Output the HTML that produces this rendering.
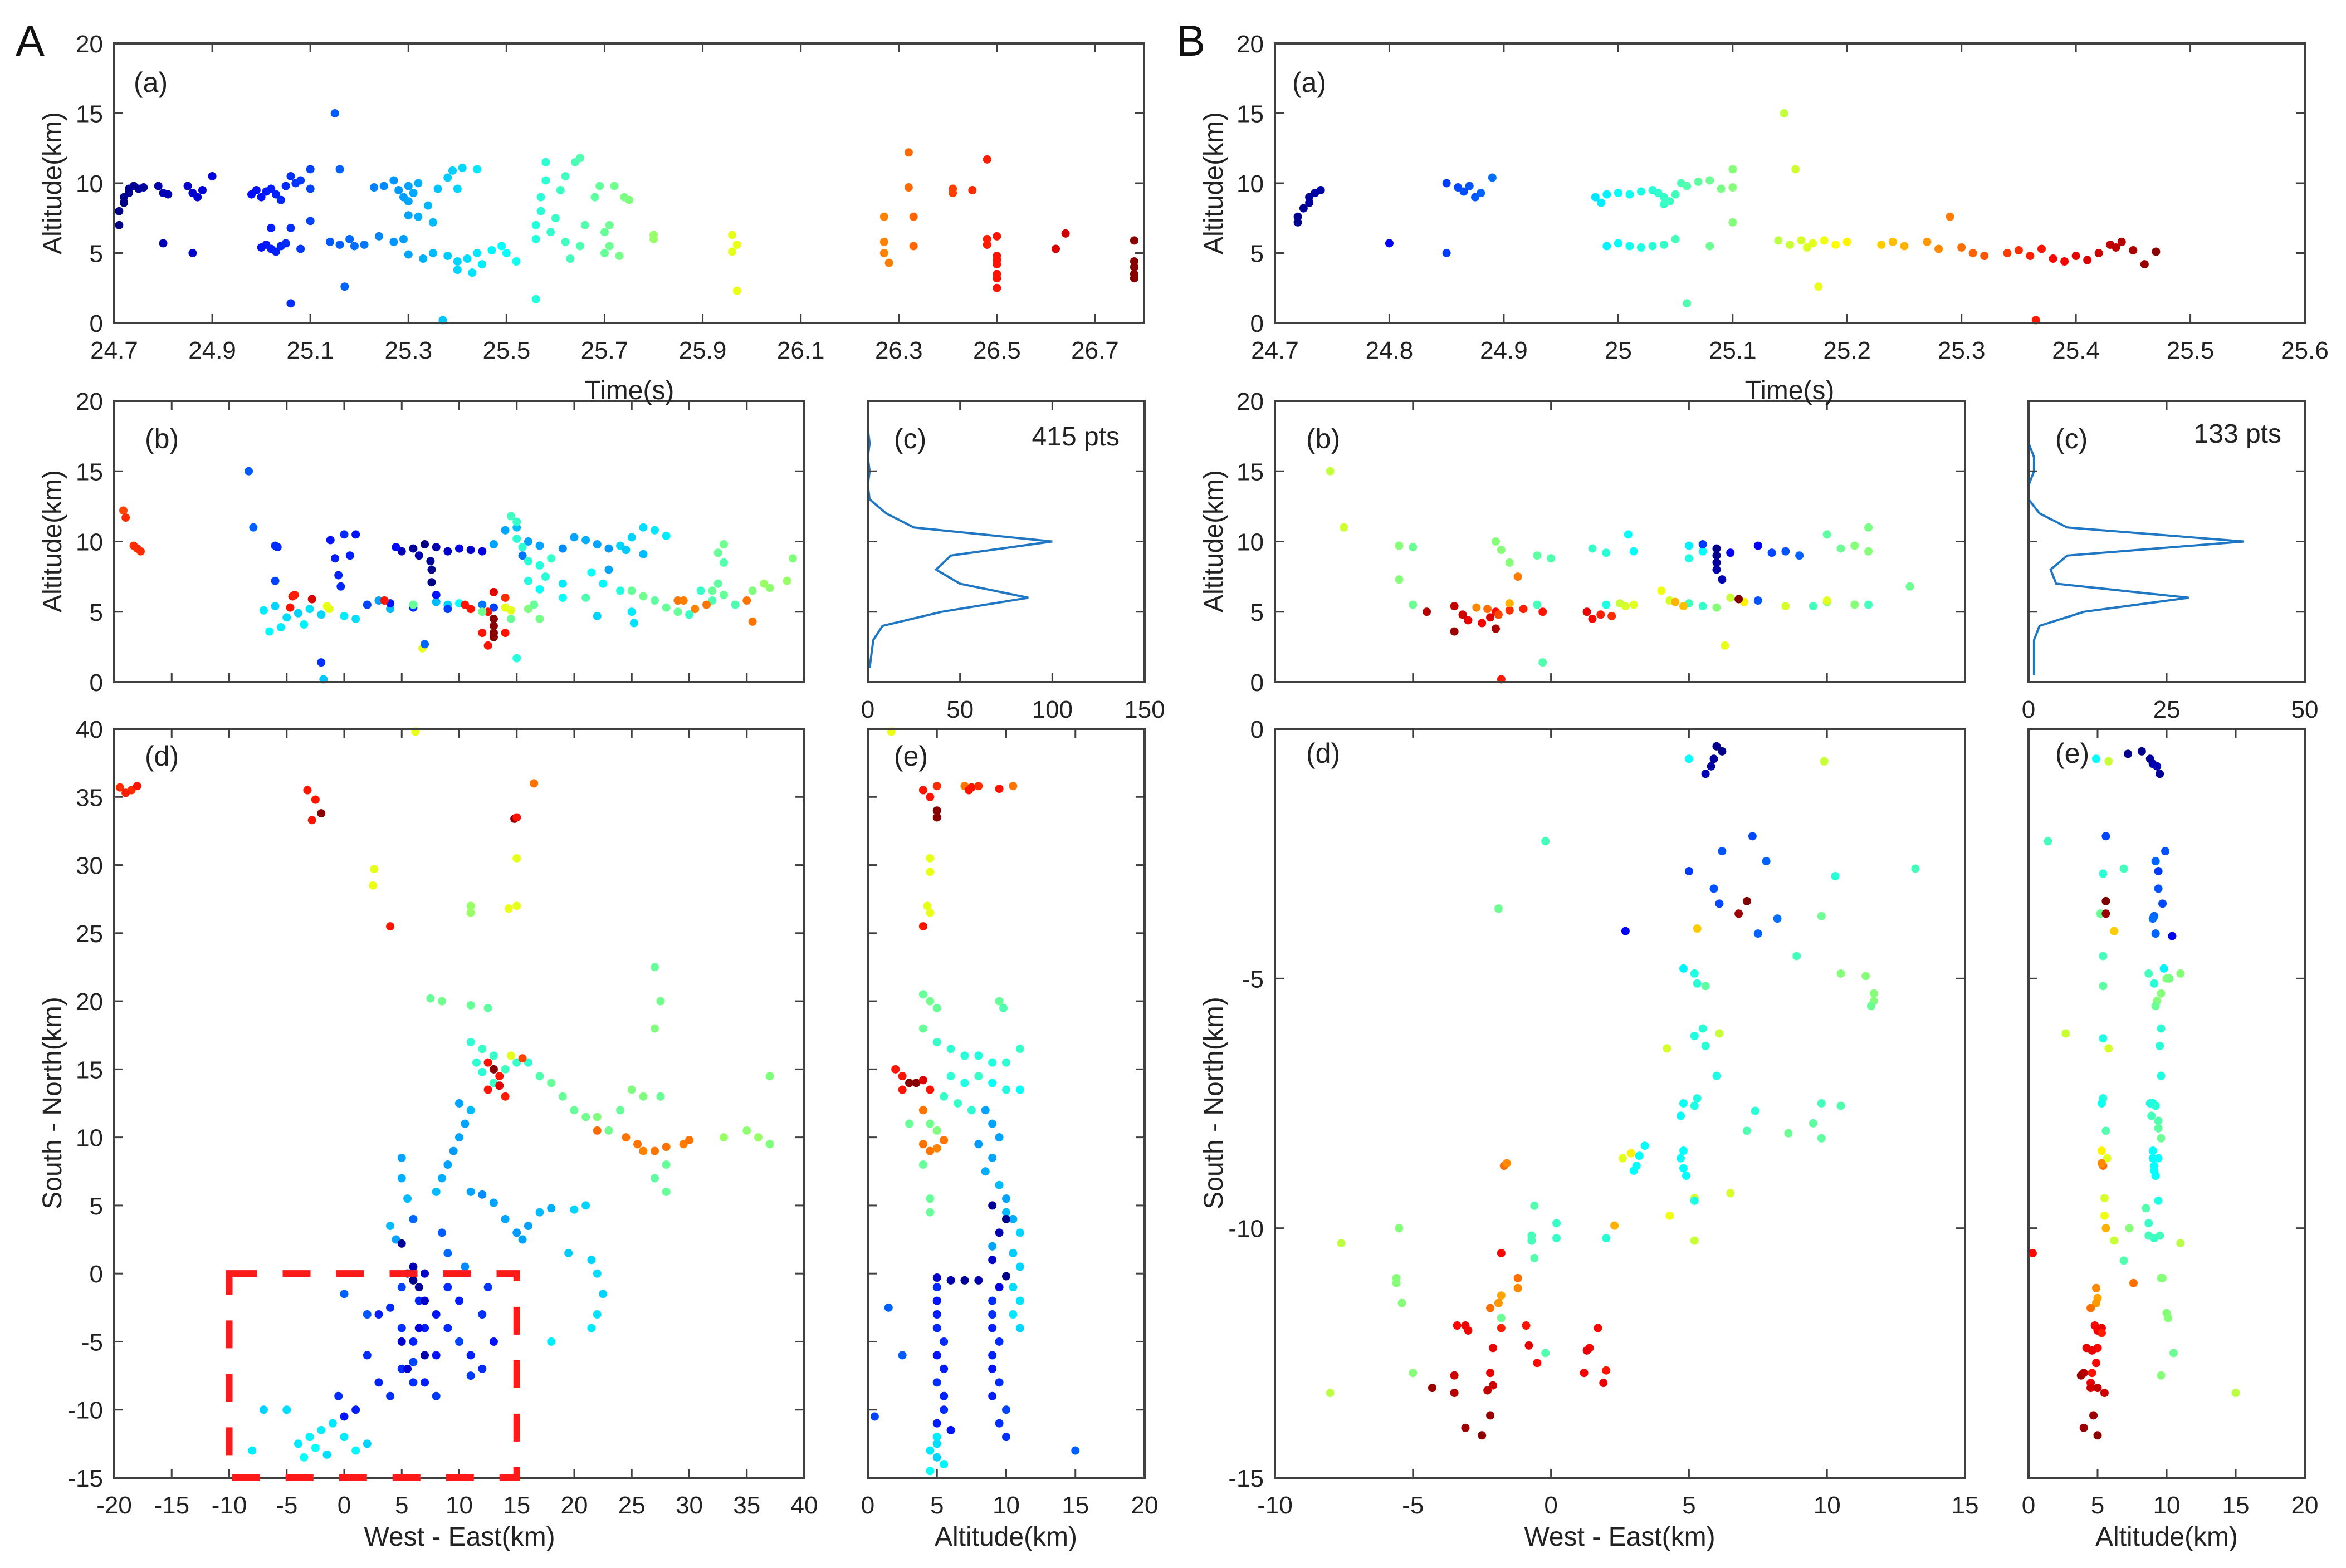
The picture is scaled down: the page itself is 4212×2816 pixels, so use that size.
<!DOCTYPE html>
<html><head><meta charset="utf-8">
<style>
html,body{margin:0;padding:0;background:#fff;}
svg{display:block;font-family:"Liberation Sans",Arial,sans-serif;}
</style></head>
<body>
<svg id="fig" width="4212" height="2816" viewBox="0 0 4212 2816" xmlns="http://www.w3.org/2000/svg">
<rect width="4212" height="2816" fill="#fff"/>
<text x="28" y="100" font-size="78" fill="#111">A</text>
<text x="2112" y="100" font-size="78" fill="#111">B</text>
</svg>
<script>
// ---------- Figure A data ----------
// A(a): [time(s), altitude(km)]
const aTimeAlt = [[24.71,7.0],[24.71,8.0],[24.72,8.6],[24.72,9.0],[24.73,9.3],[24.73,9.6],[24.74,9.8],[24.75,9.6],[24.76,9.7],[24.79,9.8],[24.80,9.3],[24.81,9.2],[24.80,5.7],[24.85,9.8],[24.86,9.3],[24.87,9.0],[24.88,9.5],[24.86,5.0],[24.90,10.5],
[24.98,9.2],[24.99,9.5],[25.0,9.0],[25.01,9.4],[25.02,9.6],[25.03,9.2],[25.04,8.8],[25.05,9.8],[25.06,10.5],[25.07,10.0],[25.08,10.2],[25.1,11.0],[25.1,9.6],[25.0,5.4],[25.01,5.6],[25.02,5.3],[25.03,5.1],[25.04,5.5],[25.05,5.7],[25.02,6.8],[25.06,6.8],[25.08,5.3],[25.1,7.3],[25.06,1.4],[25.15,15.0],[25.16,11.0],[25.14,5.8],[25.16,5.6],[25.18,6.0],[25.19,5.5],[25.21,5.6],[25.17,2.6],
[25.23,9.7],[25.25,9.8],[25.27,10.2],[25.28,9.5],[25.29,9.0],[25.30,9.8],[25.3,8.7],[25.31,9.3],[25.32,10.0],[25.3,7.7],[25.32,7.6],[25.34,8.4],[25.35,7.2],[25.36,9.6],[25.38,10.4],[25.39,10.9],[25.41,11.1],[25.4,9.6],[25.44,11.0],[25.24,6.2],[25.27,5.8],[25.29,6.0],[25.3,4.9],[25.33,4.6],[25.35,5.0],[25.38,4.8],[25.4,4.4],[25.42,4.6],[25.44,5.0],[25.45,4.2],[25.47,5.2],[25.43,3.6],[25.4,3.8],[25.49,5.5],[25.5,5.0],[25.52,4.4],[25.37,0.2],
[25.56,6.0],[25.56,7.0],[25.57,8.0],[25.57,9.0],[25.58,10.2],[25.58,11.5],[25.59,6.5],[25.6,7.5],[25.61,9.5],[25.62,10.5],[25.64,11.5],[25.65,11.8],[25.62,5.8],[25.63,4.6],[25.65,5.5],[25.66,7.0],[25.56,1.7],
[25.68,9.0],[25.69,9.8],[25.7,6.5],[25.71,7.0],[25.71,5.5],[25.72,9.8],[25.73,4.8],[25.74,9.0],[25.75,8.8],[25.7,5.0],[25.8,6.3],[25.8,6.0],
[25.96,6.3],[25.96,5.1],[25.97,5.6],[25.97,2.3],
[26.27,7.6],[26.27,5.8],[26.27,5.0],[26.28,4.3],[26.32,12.2],[26.32,9.7],[26.33,7.6],[26.33,5.5],[26.41,9.6],[26.41,9.3],[26.45,9.5],
[26.48,11.7],[26.48,6.0],[26.48,5.6],[26.5,6.2],[26.5,4.8],[26.5,4.5],[26.5,4.2],[26.5,3.5],[26.5,3.2],[26.5,2.5],[26.62,5.3],[26.64,6.4],
[26.78,5.9],[26.78,4.4],[26.78,4.0],[26.78,3.5],[26.78,3.2]];
// A(b): [west-east km, altitude km, time s]
const bWeAlt = [[-19.2,12.2,26.4],[-19,11.7,26.45],[-18.3,9.7,26.45],[-18,9.5,26.45],[-17.7,9.3,26.45],
[-8.3,15,25.15],[-7.9,11,25.16],[-6,9.7,25.05],[-5.8,9.6,25.05],[-6,7.2,25.1],
[-1.2,10.1,25.0],[0,10.5,25.05],[1,10.5,25.0],[-0.8,8.8,25.02],[0.5,9,25.02],[-0.5,7.6,25.03],[-0.3,6.8,25.04],
[5,9.3,24.8],[6,9.5,24.75],[7,9.8,24.72],[8,9.6,24.8],[9,9.3,24.85],[10,9.5,24.9],[11,9.4,24.85],[12,9.3,24.9],[7.5,8.6,24.75],[7.6,8,24.72],[7.6,7.1,24.71],[6.5,9,24.8],[4.5,9.6,24.98],
[14,10.8,25.3],[15,11.0,25.35],[16,10,25.3],[17,9.7,25.3],[19,9.5,25.25],[20,10.3,25.3],[21,10.1,25.32],[22,9.8,25.3],[23,9.5,25.28],[24,9.7,25.4],[25,10.3,25.4],[26,11.0,25.42],[27,10.8,25.44],[28,10.4,25.45],[24.5,9.4,25.38],[26,9.1,25.35],[13,9.8,25.3],[15.5,9,25.2],
[14.5,11.8,25.62],[15,11.4,25.6],[15,10.2,25.58],[15.5,9.6,25.58],[16,8.6,25.57],[17,8.3,25.56],[17.5,7.5,25.57],[18,8.8,25.6],[16,7.2,25.55],[17,6.6,25.5],[19,7.0,25.45],[19,6.0,25.5],[21,6.0,25.65],[21.5,7.8,25.5],[22.5,7.0,25.48],[23,8.0,25.3],[24,6.5,25.55],[25,6.5,25.7],[26,6.1,25.72],[27,5.8,25.68],[28,5.3,25.7],[29,5.0,25.7],[31,6.5,25.6],[32,6.5,25.7],[32.5,9.2,25.7],[33,9.8,25.72],[32.5,7,25.68],[33,6.2,25.7],[32,5.8,25.65],[34,5.5,25.65],[33,8.5,25.66],[35.5,6.5,25.75],[37,6.7,25.78],[38.5,7.2,25.8],[39,8.8,25.75],[36.5,7.0,25.8],
[29,5.8,26.3],[29.5,5.8,26.28],[30.5,5.2,26.27],[31.5,5.5,26.3],[35,5.8,26.3],[35.5,4.3,26.3],
[-7,5.1,25.45],[-6,5.4,25.4],[-5.5,3.9,25.45],[-5,4.6,25.42],[-4,4.9,25.4],[-3,5.2,25.43],[-2,4.8,25.4],[0,4.7,25.45],[1,4.5,25.42],[2,5.5,25.3],[3,5.8,25.3],[4,5.2,25.35],[6,5.5,25.4],[8,5.7,25.35],[9,5.5,25.4],[10,5.6,25.5],[11,5.2,25.45],[-6.5,3.6,25.48],[-3.5,4.1,25.46],[-2,1.4,25.06],[-1.8,0.2,25.37],
[2,5.5,25.1],[4,5.6,25.0],[6,5.3,25.05],[8,6.2,25.0],[9,5.2,25.1],[12,5.5,25.2],[13,5.3,25.1],
[-4.5,6.1,26.5],[-4.3,6.2,26.48],[-4.7,5.3,26.5],[-2.8,5.9,26.6],[3.5,5.8,26.5],[10.5,5.5,26.5],[11,5.2,26.5],[12.5,5.0,26.5],[13,6.4,26.6],[13,4.5,26.78],[13,4.0,26.78],[13,3.5,26.78],[13,3.2,26.78],[14,3.5,26.5],[12,3.5,26.5],[12.5,2.6,26.5],[14,6.0,26.45],
[-1.5,5.4,25.97],[-1.3,5.2,25.96],[6.8,2.4,25.97],[14,5.3,25.96],[14.5,5.1,25.96],
[6,5.5,25.7],[12,5,25.72],[14.5,4.5,25.7],[16,5.2,25.75],[17,4.5,25.73],[15,1.7,25.56],[16.5,5.5,25.7],
[7,2.7,25.17],[22,4.7,25.4],[25,5,25.45],[25.2,4.2,25.43],[30,4.8,25.6]];
// A(c): histogram counts per altitude bin
const cAltBins = [1,2,3,4,5,6,7,8,9,10,11,12,13,14,15,16,17,18,19,20];
const cCounts = [1,2,3,8,40,87,50,37,45,100,25,10,1,0,1,0,1,0,0,0];
// A(d): [west-east, south-north, time]
const dWeSn = [[-19.5,35.7,26.45],[-18.5,35.5,26.45],[-18,35.8,26.5],[-19,35.3,26.48],
[-3.2,35.5,26.5],[-2.5,34.8,26.5],[-2.8,33.3,26.5],[-2,33.8,26.78],
[6.2,39.8,25.97],[2.6,29.7,25.96],[2.5,28.5,25.97],[4,25.5,26.5],[14.8,33.4,26.78],[15,33.5,26.5],[16.5,36,26.3],[15,30.5,25.96],[14.3,26.8,25.97],[15,27,25.96],[11,27,25.8],[11,26.5,25.8],
[7.5,20.2,25.7],[8.5,20,25.72],[11,19.7,25.7],[12.5,19.5,25.68],[11,17,25.58],[12,16.5,25.6],[13,16,25.6],[11.5,15.5,25.58],[12,14.8,25.57],[13,14,25.6],[14,15,25.62],[15,15.5,25.6],[16,15.5,25.58],[17,14.5,25.65],[18,14,25.7],[19,13,25.7],[20,12,25.7],[21,11.5,25.72],[22,11.5,25.75],[24,12,25.7],[23,10.5,25.72],[25,13.5,25.75],[26,13,25.75],[27,22.5,25.7],[27.5,20,25.72],[27,18,25.75],[27.5,13,25.7],[28,8,25.7],[27,7,25.68],[28,6,25.7],[33,10,25.8],[35,10.5,25.78],[36,10,25.8],[37,14.5,25.75],[37,9.5,25.75],
[12.5,15.5,26.5],[13,15,26.78],[13.5,14.5,26.5],[12.5,13.5,26.5],[14,13,26.48],[13.5,13.8,26.6],
[24.5,10,26.3],[25.5,9.5,26.3],[26,9,26.27],[27,9,26.3],[28,9.3,26.3],[29.5,9.5,26.28],[30,9.8,26.3],[22,10.5,26.32],[15.5,15.8,26.4],[14.5,16,25.96],
[10,12.5,25.3],[11,12,25.35],[10.5,11,25.3],[10,10,25.3],[9.5,9,25.28],[9,8,25.3],[8.5,7,25.32],[8,6,25.35],[11,6,25.3],[12,5.8,25.25],[13,5.2,25.3],[16,3.5,25.3],[17,4.5,25.35],[18,4.8,25.32],[20,4.7,25.4],[21,5,25.4],[19.5,1.5,25.38],[21.5,1,25.4],[22,0,25.42],[22.5,-1.5,25.4],[22,-3,25.43],[21.5,-4,25.44],[18,-5,25.45],[15.5,2.5,25.3],[14,4,25.3],[15,3,25.28],[10.5,0.5,25.25],[5,8.5,25.3],[5,7,25.32],[5.5,5.5,25.35],[4,3.5,25.35],[4.5,2.5,25.3],
[-8,-13,25.45],[-7,-10,25.4],[-5,-10,25.42],[-4,-12.5,25.45],[-3.5,-13.5,25.5],[-3,-12,25.47],[-2,-11.5,25.45],[-1,-11,25.44],[0,-12,25.45],[1,-13,25.48],[2,-12.5,25.4],[-2.5,-12.8,25.5],[-1.5,-13.3,25.42],
[-0.5,-9,25.05],[0,-10.5,25.0],[1,-10,25.02],[2,-6,25.05],[3,-8,25.03],[4,-9,25.06],[5,-7,25.05],[6,-5,25.03],[7,-4,25.02],[6.5,-2,25.04],[8,-3,25.0],[9,-4,25.05],[10,-5,25.1],[11,-6,25.02],[12,-7,25.05],[13,-5,25.0],[12,-3,25.06],[9,-1,25.05],[10,-2,25.02],[8,-6,25.0],[6,-6.5,25.1],[5,-4,25.06],[4,-2.5,25.05],[3,-3,25.02],[7,-8,25.02],[8,-9,25.08],[6,-8,25.06],[5,-1,25.1],[8.5,3,25.15],[9,1.5,25.18],[6,4,25.17],[11,-7.5,25.08],[0,-1.5,25.16],[2,-3,25.14],[12.5,-1,25.07],
[5,2.2,24.75],[5.5,0,24.72],[6,-0.5,24.72],[6.5,-1,24.75],[6,0.5,24.8],[7,0,24.85],[7,-2,24.85],[6.5,-4,24.9],[7,-6,24.8],[5.5,-7,24.88],[5,-5,24.86]];
// A(e): [altitude, south-north, time]
const eAltSn = [[1.7,39.8,25.97],[4,35.5,26.5],[5,35.8,26.45],[4.5,35,26.5],[5,34,26.78],[5,33.5,26.78],[7,35.8,26.3],[7.5,35.7,26.5],[8,35.8,26.45],[9.5,35.6,26.5],[10.5,35.8,26.3],[7.3,35.5,26.5],
[4.5,30.5,25.96],[4.5,29.5,25.97],[4.3,27,25.96],[4.5,26.5,25.97],[4,25.5,26.5],
[4,20.5,25.7],[4.5,20,25.72],[5,19.5,25.7],[4,18,25.7],[9.5,20,25.7],[9.8,19.5,25.65],
[5,17,25.6],[6,16.5,25.58],[7,16,25.57],[8,16,25.56],[9,15.5,25.55],[10,15.5,25.58],[11,16.5,25.6],[6,14.5,25.58],[7,14,25.55],[8,14.5,25.6],[9,14,25.5],[10,13.5,25.55],[11,13.5,25.5],[5.5,13,25.6],[6.5,12.5,25.6],[7.5,12,25.58],
[2,15,26.5],[2.5,14.5,26.5],[3,14,26.78],[3.5,14,26.78],[4,14.2,26.6],[4.5,13.5,26.5],[2.5,13.5,26.5],
[4,9.5,26.3],[4.5,9,26.3],[5,9.2,26.27],[5.5,9.8,26.3],[4,12,26.3],
[3,11,25.7],[4.5,11,25.72],[5,10.5,25.75],[4,8,25.7],[4.5,5.5,25.7],[4.5,4.5,25.7],
[8.5,12,25.3],[9,11,25.3],[9.5,10,25.3],[8,9.5,25.28],[9,8.5,25.3],[8.5,7.5,25.32],[9.5,6.5,25.35],[10,5.5,25.3],[10.5,4,25.32],[11,3,25.4],[10.5,1.5,25.38],[11,0.5,25.4],[10.5,-1,25.42],[11,-2,25.43],[10.5,-3,25.44],[11,-4,25.4],[10,4.5,25.35],[9,2,25.3],
[9,5,24.75],[10,4,24.72],[9.5,3,24.8],[9,1,24.85],[10,-0.2,24.72],[8,-0.5,24.8],[7,-0.5,24.75],[6,-0.5,24.8],[5,-0.3,24.85],[9.5,-1,24.9],
[5,-1,25.05],[5,-2,25.0],[5,-3,25.02],[5,-4,25.04],[5.5,-5,25.05],[5,-6,25.0],[5.5,-7,25.02],[5,-8,25.06],[5.5,-9,25.03],[5.5,-10,25.05],[5,-11,25.02],[6,-11.5,25.0],[9,-2,25.05],[9,-3,25.06],[9,-4,25.02],[9.5,-5,25.05],[9,-6,25.03],[9,-7,25.0],[9.5,-8,25.05],[9,-9,25.02],[10,-10,25.1],[9.5,-11,25.05],[10,-12,25.06],[0.5,-10.5,25.1],[1.5,-2.5,25.16],[2.5,-6,25.15],[15,-13,25.16],
[5,-12,25.45],[4.5,-13,25.45],[5,-13.5,25.4],[5.5,-14,25.47],[4.5,-14.5,25.5],[5,-12.5,25.42]];

// ---------- Figure B data ----------
const bbTimeAlt = [[24.72,7.2],[24.72,7.6],[24.725,8.2],[24.73,8.6],[24.73,9.0],[24.735,9.3],[24.74,9.5],
[24.8,5.7],[24.85,5.0],[24.85,10],[24.86,9.7],[24.865,9.4],[24.87,9.8],[24.875,9.0],[24.88,9.3],[24.89,10.4],
[24.98,9.0],[24.99,9.2],[25.0,9.3],[25.01,9.2],[25.02,9.4],[25.03,9.5],[25.035,9.3],[25.04,9.0],[25.045,8.7],[25.05,9.2],[25.04,8.5],[25.055,10],[24.985,8.6],[24.99,5.5],[25.0,5.7],[25.01,5.5],[25.02,5.4],[25.03,5.5],[25.04,5.6],[25.05,6.0],[25.06,1.4],[25.06,9.8],[25.07,10.1],[25.08,10.2],[25.09,9.6],[25.1,11],[25.1,9.7],[25.1,7.2],[25.08,5.5],
[25.145,15],[25.155,11],[25.14,5.9],[25.15,5.6],[25.16,5.9],[25.17,5.7],[25.18,5.9],[25.19,5.6],[25.2,5.8],[25.175,2.6],[25.165,5.4],
[25.23,5.6],[25.24,5.8],[25.25,5.5],[25.27,5.8],[25.28,5.3],[25.29,7.6],[25.3,5.4],[25.31,5.0],[25.32,4.8],[25.34,5.0],
[25.35,5.2],[25.36,4.8],[25.37,5.3],[25.38,4.6],[25.39,4.4],[25.4,4.8],[25.41,4.5],[25.42,5.0],[25.43,5.6],[25.44,5.8],[25.45,5.2],[25.46,4.2],[25.47,5.1],[25.365,0.2],[25.435,5.4]];
const bbWeAlt = [[-8,15,25.145],[-7.5,11,25.155],[-5.5,9.7,25.1],[-5,9.6,25.08],[-5.5,7.3,25.1],[-5,5.5,25.08],[-2,10,25.1],[-1.8,9.4,25.1],[-1.5,8.5,25.1],[-0.5,9,25.07],[0,8.8,25.06],[-0.5,5.5,25.05],[-0.3,1.4,25.06],[1.5,9.5,25.04],[2,9.2,25.03],[2.8,10.5,25.0],[3,9.3,25.0],[2,5.5,25.02],[2.5,5.6,25.15],[2.7,5.4,25.16],[3,5.5,25.17],[4,6.5,25.18],[4.3,5.8,25.16],[5,9.7,24.99],[5.5,9.3,25.0],[5,8.8,25.02],[6,9.5,24.72],[6,9,24.72],[6,8.5,24.73],[6,8.0,24.74],[6.2,7.3,24.75],[5.5,9.8,24.85],[6.5,9.2,24.8],[5,5.6,25.05],[5.5,5.4,25.04],[6,5.3,25.1],[6.3,2.6,25.175],[6.5,6,25.15],[7,5.7,25.2],[7.5,5.8,24.87],[6.8,5.9,25.48],[8,9.2,24.86],[8.5,9.3,24.87],[9,9.0,24.88],[10,10.5,25.07],[10.5,9.5,25.08],[11,9.7,25.1],[11.5,9.3,25.1],[11.5,11,25.09],[10,5.7,25.1],[9.5,5.4,25.05],[11,5.5,25.1],[11.5,5.5,25.05],[13,6.8,25.08],[-4.5,5.0,25.44],[-3.5,5.4,25.43],[-3.2,4.8,25.42],[-3,4.4,25.4],[-2.5,4.2,25.39],[-2.2,4.6,25.41],[-2,5.0,25.38],[-1.5,5.1,25.35],[-1,5.2,25.36],[-0.3,5.0,25.37],[-2.3,5.2,25.3],[-1.9,4.8,25.33],[-3.5,3.6,25.46],[-2,3.8,25.45],[1.5,4.5,25.38],[1.8,4.8,25.36],[1.3,5.0,25.4],[2.2,4.7,25.35],[-1.8,0.2,25.365],[-1.5,5.6,25.25],[-1.2,7.5,25.29],[-2.7,5.3,25.28],[4.5,5.7,25.25],[4.8,5.4,25.24],[8.5,5.4,25.16],[10,5.8,25.17],[7.5,9.7,24.8]];
const bbAltBins = [0.5,1,2,3,4,5,6,7,8,9,10,11,12,13,14,15,16,17,18,19,20];
const bbCounts = [1,1,1,1,2,10,29,5,4,7,39,7,2,0,0,1,1,0,0,0,0];
const bbWeSn = [[5,-0.6,25.0],[6,-0.35,24.72],[6.2,-0.45,24.72],[5.9,-0.6,24.73],[5.8,-0.75,24.74],[5.6,-0.9,24.75],[9.9,-0.65,25.15],
[-0.2,-2.25,25.05],[7.3,-2.15,24.86],[6.2,-2.45,24.87],[7.8,-2.65,24.88],[5,-2.85,24.85],[13.2,-2.8,25.05],[10.3,-2.95,25.03],[5.9,-3.2,24.87],[6.1,-3.5,24.86],[7.1,-3.45,25.48],[6.8,-3.7,25.46],[8.2,-3.8,24.89],[9.8,-3.75,25.08],[-1.9,-3.6,25.08],[5.3,-4.0,25.23],[2.7,-4.05,24.8],[7.5,-4.1,24.88],[8.9,-4.55,25.05],[4.8,-4.8,24.99],[5.2,-4.9,25.02],[5.3,-5.1,25.03],[5.6,-5.15,25.07],[10.5,-4.9,25.1],[11.4,-4.95,25.1],[11.7,-5.3,25.1],[11.7,-5.45,25.1],[11.6,-5.55,25.08],[5.5,-6.0,25.03],[5.2,-6.15,25.02],[6.1,-6.1,25.15],[5.6,-6.35,25.03],[4.2,-6.4,25.16],[6,-6.95,25.02],[5.3,-7.4,25.02],[4.8,-7.5,25.01],[4.7,-7.75,25.0],[5.2,-7.55,25.02],[7.4,-7.65,25.03],[9.8,-7.5,25.05],[10.5,-7.55,25.06],[9.5,-7.9,25.07],[7.1,-8.05,25.06],[8.6,-8.1,25.08],[9.8,-8.2,25.07],[3.4,-8.35,25.0],[2.9,-8.5,25.2],[2.6,-8.6,25.17],[3.2,-8.55,25.0],[3.1,-8.75,25.0],[3.0,-8.85,25.0],[4.8,-8.45,25.0],[4.7,-8.6,25.0],[4.8,-8.8,25.0],[4.9,-8.95,25.0],[-1.7,-8.75,25.3],[-1.6,-8.7,25.28],[5.2,-9.4,25.16],[6.5,-9.3,25.16],[5.2,-9.45,25.02],[4.3,-9.75,25.18],[2.3,-9.95,25.25],[-0.6,-9.55,25.06],[0.2,-9.9,25.04],[0.2,-10.2,25.04],[-0.7,-10.15,25.05],[-0.7,-10.25,25.05],[2,-10.2,25.03],[5.2,-10.25,25.15],[-5.5,-10,25.1],[-7.6,-10.3,25.14],[-1.8,-10.5,25.38],[-0.6,-10.6,25.06],[-5.6,-11.0,25.1],[-5.6,-11.1,25.1],[-1.2,-11.0,25.3],[-1.2,-11.2,25.28],[-1.8,-11.35,25.26],[-1.9,-11.5,25.27],[-2.2,-11.6,25.3],[-5.4,-11.5,25.1],[-1.8,-11.8,25.08],[-3.4,-11.95,25.38],[-3.1,-11.95,25.4],[-3.0,-12.05,25.39],[-1.8,-12.0,25.36],[-0.9,-11.95,25.37],[1.7,-12.0,25.38],[-2.1,-12.4,25.4],[-0.8,-12.35,25.4],[1.4,-12.4,25.38],[1.3,-12.45,25.4],[-0.2,-12.5,25.06],[-0.5,-12.7,25.38],[2,-12.85,25.37],[1.2,-12.9,25.39],[1.9,-13.1,25.4],[-5,-12.9,25.1],[-3.5,-12.95,25.42],[-4.3,-13.2,25.46],[-3.5,-13.3,25.44],[-2.3,-13.25,25.43],[-2.1,-13.15,25.42],[-2.2,-12.9,25.4],[-8,-13.3,25.14],[-2.2,-13.75,25.46],[-3.1,-14.0,25.46],[-2.5,-14.15,25.47]];
const bbAltSn = [[4.9,-0.6,25.0],[5.8,-0.65,25.15],[7.2,-0.5,24.72],[8.2,-0.45,24.72],[8.8,-0.6,24.73],[9.0,-0.7,24.74],[9.3,-0.75,24.75],[9.5,-0.9,24.73],
[1.4,-2.25,25.05],[5.6,-2.15,24.86],[9.9,-2.45,24.87],[9.2,-2.65,24.88],[6.9,-2.8,25.05],[5.4,-2.9,25.03],[9.4,-2.85,24.85],[9.4,-3.2,24.87],[9.7,-3.5,24.86],[5.6,-3.45,25.48],[5.2,-3.7,25.08],[5.6,-3.7,25.46],[6.2,-4.05,25.23],[9.1,-3.75,24.88],[9.0,-3.8,24.89],[9.2,-4.1,24.88],[10.4,-4.15,24.8],[5.4,-4.55,25.05],[9.8,-4.8,24.99],[8.7,-4.9,25.05],[10,-5.0,25.1],[11,-4.9,25.1],[10.2,-5.0,25.09],[9.1,-5.1,25.03],[5.4,-5.15,25.07],[9.6,-5.3,25.1],[9.3,-5.45,25.1],[9.2,-5.55,25.08],[9.6,-6.0,25.03],[5.4,-6.2,25.02],[2.7,-6.1,25.15],[9.5,-6.35,25.03],[5.8,-6.4,25.16],[9.6,-6.95,25.02],[5.4,-7.4,25.02],[5.3,-7.5,25.01],[9.0,-7.5,25.0],[8.8,-7.5,25.02],[9.2,-7.55,25.03],[8.9,-7.75,25.05],[9.4,-7.85,25.06],[5.6,-8.05,25.06],[9.6,-8.2,25.08],[9.4,-8.0,25.07],[5.3,-8.45,25.2],[5.7,-8.6,25.17],[9.0,-8.45,25.0],[9.0,-8.6,25.0],[9.1,-8.75,25.0],[9.4,-8.6,25.0],[9.1,-8.85,25.0],[9.2,-8.95,25.0],[5.4,-8.75,25.3],[5.3,-8.7,25.28],[5.5,-9.4,25.16],[9.4,-9.45,25.02],[5.5,-9.75,25.18],[8.5,-9.6,25.06],[8.7,-9.9,25.04],[7.3,-10.0,25.1],[5.6,-10.0,25.25],[9.1,-10.2,25.04],[8.7,-10.15,25.05],[9.5,-10.15,25.05],[6.2,-10.25,25.15],[11,-10.3,25.14],[0.3,-10.5,25.38],[6.9,-10.65,25.06],[9.6,-11.0,25.1],[9.7,-11.0,25.1],[7.6,-11.1,25.3],[4.9,-11.2,25.28],[5.0,-11.4,25.26],[4.9,-11.5,25.27],[4.5,-11.6,25.3],[10,-11.7,25.1],[10.1,-11.8,25.1],[4.8,-11.95,25.38],[5.3,-12.0,25.4],[5.0,-12.05,25.39],[5.3,-12.1,25.36],[4.2,-12.4,25.4],[5.0,-12.4,25.38],[4.6,-12.45,25.4],[10.5,-12.5,25.08],[4.9,-12.7,25.38],[4.6,-12.9,25.37],[3.8,-12.95,25.46],[4.0,-12.9,25.44],[4.5,-13.1,25.4],[4.5,-13.2,25.42],[9.6,-12.95,25.1],[5.0,-13.2,25.43],[5.5,-13.3,25.42],[15,-13.3,25.14],[4.7,-13.75,25.46],[4.0,-14.0,25.46],[5.0,-14.15,25.47]];

// tick arrays
const aTimeTicks = [24.7,24.9,25.1,25.3,25.5,25.7,25.9,26.1,26.3,26.5,26.7];
const bTimeTicks = [24.7,24.8,24.9,25,25.1,25.2,25.3,25.4,25.5,25.6];
const altTicks = [0,5,10,15,20];
const aWeTicks = [-20,-15,-10,-5,0,5,10,15,20,25,30,35,40];
const aSnTicks = [-15,-10,-5,0,5,10,15,20,25,30,35,40];
const bWeTicks = [-10,-5,0,5,10,15];
const bSnTicks = [-15,-10,-5,0];
const aCountTicks = [0,50,100,150];
const bCountTicks = [0,25,50];
const e20Ticks = [0,5,10,15,20];

const svg = document.getElementById('fig');
const NS = 'http://www.w3.org/2000/svg';
function mk(tag, attrs, parent){ const e=document.createElementNS(NS,tag); for(const k in attrs) e.setAttribute(k,attrs[k]); (parent||svg).appendChild(e); return e; }
function clamp(v){ return Math.max(0,Math.min(1,v)); }
function jet(t){ const r=clamp(1.5-Math.abs(4*t-3)), g=clamp(1.5-Math.abs(4*t-2)), b=clamp(1.5-Math.abs(4*t-1)); return `rgb(${Math.round(r*255)},${Math.round(g*255)},${Math.round(b*255)})`; }
const AX='#404040', TXT='#222';

function axes(name, box, xlim, ylim, xticks, yticks, showX, showY, fmt){
  const g = mk('g',{});
  
  
  const sx = v => box.l + (v-xlim[0])/(xlim[1]-xlim[0])*(box.r-box.l);
  const sy = v => box.b - (v-ylim[0])/(ylim[1]-ylim[0])*(box.b-box.t);
  const inner = mk('g',{},g);
  const T=16;
  xticks.forEach(v=>{
    const x=sx(v);
    mk('line',{x1:x,y1:box.b,x2:x,y2:box.b-T,stroke:AX,'stroke-width':3},g);
    mk('line',{x1:x,y1:box.t,x2:x,y2:box.t+T,stroke:AX,'stroke-width':3},g);
    if(showX){ const t=mk('text',{x:x,y:box.b+64,'text-anchor':'middle','font-size':44,fill:TXT},g); t.textContent=fmt?fmt(v):String(v);
      
       }
  });
  yticks.forEach(v=>{
    const y=sy(v);
    mk('line',{x1:box.l,y1:y,x2:box.l+T,y2:y,stroke:AX,'stroke-width':3},g);
    mk('line',{x1:box.r,y1:y,x2:box.r-T,y2:y,stroke:AX,'stroke-width':3},g);
    if(showY){ const t=mk('text',{x:box.l-20,y:y+16,'text-anchor':'end','font-size':44,fill:TXT},g); t.textContent=String(v);
      
       }
  });
  mk('rect',{x:box.l,y:box.t,width:box.r-box.l,height:box.b-box.t,fill:'none',stroke:AX,'stroke-width':4},g);
  return {g,sx,sy,inner};
}
function scatter(ax, pts, colorFn, name){
  pts.forEach(p=>{
    const c=mk('circle',{cx:ax.sx(p[0]),cy:ax.sy(p[1]),r:7.5,fill:colorFn(p)},ax.inner);
    
    
  });
}
function label(txt,x,y,size,name,anchor,rot){
  const t=mk('text',{x:x,y:y,'font-size':size,fill:TXT,'text-anchor':anchor||'start'});
  if(rot) t.setAttribute('transform',`rotate(-90 ${x} ${y})`);
  t.textContent=txt;
  
  
  return t;
}
function line(ax, xs, ys, name){
  const d=xs.map((v,i)=>(i?'L':'M')+ax.sx(v).toFixed(1)+' '+ax.sy(ys[i]).toFixed(1)).join(' ');
  const p=mk('path',{d:d,fill:'none',stroke:'#1f77c4','stroke-width':4},ax.inner);
  
  
}

const colA = t => jet((t-24.7)/2.1);
const colB = t => jet((t-24.71)/0.77);

// ---- Figure A ----
const Aa = axes('panel-a-a', {l:205,t:78,r:2054,b:580}, [24.7,26.8],[0,20], aTimeTicks, altTicks, true, true, v=>v.toFixed(1));
scatter(Aa, aTimeAlt, p=>colA(p[0]), 'source-point');
const Ab = axes('panel-a-b', {l:205,t:720,r:1444,b:1225}, [-20,40],[0,20], aWeTicks, altTicks, false, true);
scatter(Ab, bWeAlt, p=>colA(p[2]), 'source-point');
const Ac = axes('panel-a-c', {l:1558,t:720,r:2055,b:1225}, [0,150],[0,20], aCountTicks, altTicks, true, false);
line(Ac, cCounts, cAltBins, 'altitude-histogram-line');
const Ad = axes('panel-a-d', {l:205,t:1309,r:1444,b:2654}, [-20,40],[-15,40], aWeTicks, aSnTicks, true, true);
scatter(Ad, dWeSn, p=>colA(p[2]), 'source-point');
{ const r=mk('rect',{x:Ad.sx(-10),y:Ad.sy(0),width:Ad.sx(15)-Ad.sx(-10),height:Ad.sy(-15)-Ad.sy(0),fill:'none',stroke:'#ff1a1a','stroke-width':12,'stroke-dasharray':'50 46'});
  
   }
const Ae = axes('panel-a-e', {l:1558,t:1309,r:2055,b:2654}, [0,20],[-15,40], e20Ticks, aSnTicks, true, false);
scatter(Ae, eAltSn, p=>colA(p[2]), 'source-point');

label('Time(s)',1130,717,48,'x-axis-title-a-a','middle');
label('Altitude(km)',110,329,48,'y-axis-title-a-a','middle',true);
label('Altitude(km)',110,972,48,'y-axis-title-a-b','middle',true);
label('South - North(km)',110,1981,48,'y-axis-title-a-d','middle',true);
label('West - East(km)',825,2776,48,'x-axis-title-a-d','middle');
label('Altitude(km)',1806,2776,48,'x-axis-title-a-e','middle');
label('(a)',240,165,50,'panel-label-a-a');
label('(b)',260,805,50,'panel-label-a-b');
label('(c)',1605,805,50,'panel-label-a-c');
label('415 pts',2010,800,48,'point-count-a','end');
label('(d)',260,1375,50,'panel-label-a-d');
label('(e)',1605,1375,50,'panel-label-a-e');

// ---- Figure B ----
const Ba = axes('panel-b-a', {l:2289,t:78,r:4138,b:580}, [24.7,25.6],[0,20], bTimeTicks, altTicks, true, true);
scatter(Ba, bbTimeAlt, p=>colB(p[0]), 'source-point');
const Bb = axes('panel-b-b', {l:2289,t:720,r:3528,b:1225}, [-10,15],[0,20], bWeTicks, altTicks, false, true);
scatter(Bb, bbWeAlt, p=>colB(p[2]), 'source-point');
const Bc = axes('panel-b-c', {l:3642,t:720,r:4138,b:1225}, [0,50],[0,20], bCountTicks, altTicks, true, false);
line(Bc, bbCounts, bbAltBins, 'altitude-histogram-line');
const Bd = axes('panel-b-d', {l:2289,t:1309,r:3528,b:2654}, [-10,15],[-15,0], bWeTicks, bSnTicks, true, true);
scatter(Bd, bbWeSn, p=>colB(p[2]), 'source-point');
const Be = axes('panel-b-e', {l:3642,t:1309,r:4138,b:2654}, [0,20],[-15,0], e20Ticks, bSnTicks, true, false);
scatter(Be, bbAltSn, p=>colB(p[2]), 'source-point');

label('Time(s)',3213,717,48,'x-axis-title-b-a','middle');
label('Altitude(km)',2195,329,48,'y-axis-title-b-a','middle',true);
label('Altitude(km)',2195,972,48,'y-axis-title-b-b','middle',true);
label('South - North(km)',2195,1981,48,'y-axis-title-b-d','middle',true);
label('West - East(km)',2908,2776,48,'x-axis-title-b-d','middle');
label('Altitude(km)',3890,2776,48,'x-axis-title-b-e','middle');
label('(a)',2320,165,50,'panel-label-b-a');
label('(b)',2345,805,50,'panel-label-b-b');
label('(c)',3690,805,50,'panel-label-b-c');
label('133 pts',4096,795,48,'point-count-b','end');
label('(d)',2345,1370,50,'panel-label-b-d');
label('(e)',3690,1370,50,'panel-label-b-e');
</script>
</body></html>
